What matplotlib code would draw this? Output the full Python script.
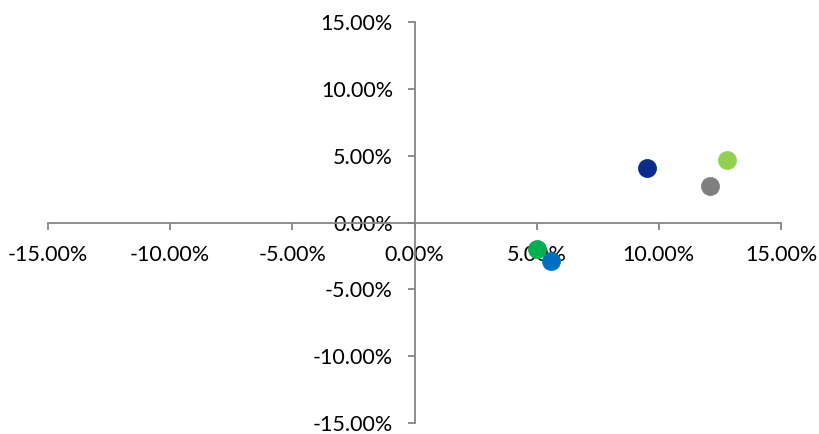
import matplotlib
matplotlib.use("Agg")
import matplotlib.pyplot as plt
from matplotlib.ticker import FuncFormatter

plt.rcParams['font.family'] = ['Lato', 'DejaVu Sans']

# data (percent)
x_vals = [9.5, 12.8, 12.1, 5.0, 5.6]
y_vals = [4.05, 4.7, 2.7, -2.0, -2.85]
colors = ['#0A2A8C', '#92D050', '#7F7F7F', '#00B050', '#0070C0']
ticks = [-15, -10, -5, 0, 5, 10, 15]

fig = plt.figure(figsize=(8.19, 4.34), dpi=100)
ax = fig.add_axes([48/819, 1-423/434, (781-48)/819, (423-22)/434])

for x, y, c in zip(x_vals, y_vals, colors):
    ax.scatter([x], [y], s=170, color=c, edgecolors=c, linewidths=0.5, zorder=3)

ax.set_xlim(-15, 15)
ax.set_ylim(-15, 15)
ax.set_xticks(ticks)
ax.set_yticks(ticks)
fmt = FuncFormatter(lambda v, p: f"{v:.2f}%")
ax.xaxis.set_major_formatter(fmt)
ax.yaxis.set_major_formatter(fmt)

for s in ['top', 'right']:
    ax.spines[s].set_visible(False)
ax.spines['left'].set_position(('data', 0))
ax.spines['bottom'].set_position(('data', 0))
for s in ['left', 'bottom']:
    ax.spines[s].set_color('#868686')
    ax.spines[s].set_linewidth(1.3)

ax.tick_params(axis='x', direction='out', length=5, width=1.3, color='#868686',
               pad=11, labelsize=15.5, labelcolor='black')
ax.tick_params(axis='y', direction='out', length=5, width=1.3, color='#868686',
               pad=10.5, labelsize=15.5, labelcolor='black')
ax.set_facecolor('none')
ax.patch.set_alpha(0)

fig.savefig('out.png', dpi=100, facecolor='white')
